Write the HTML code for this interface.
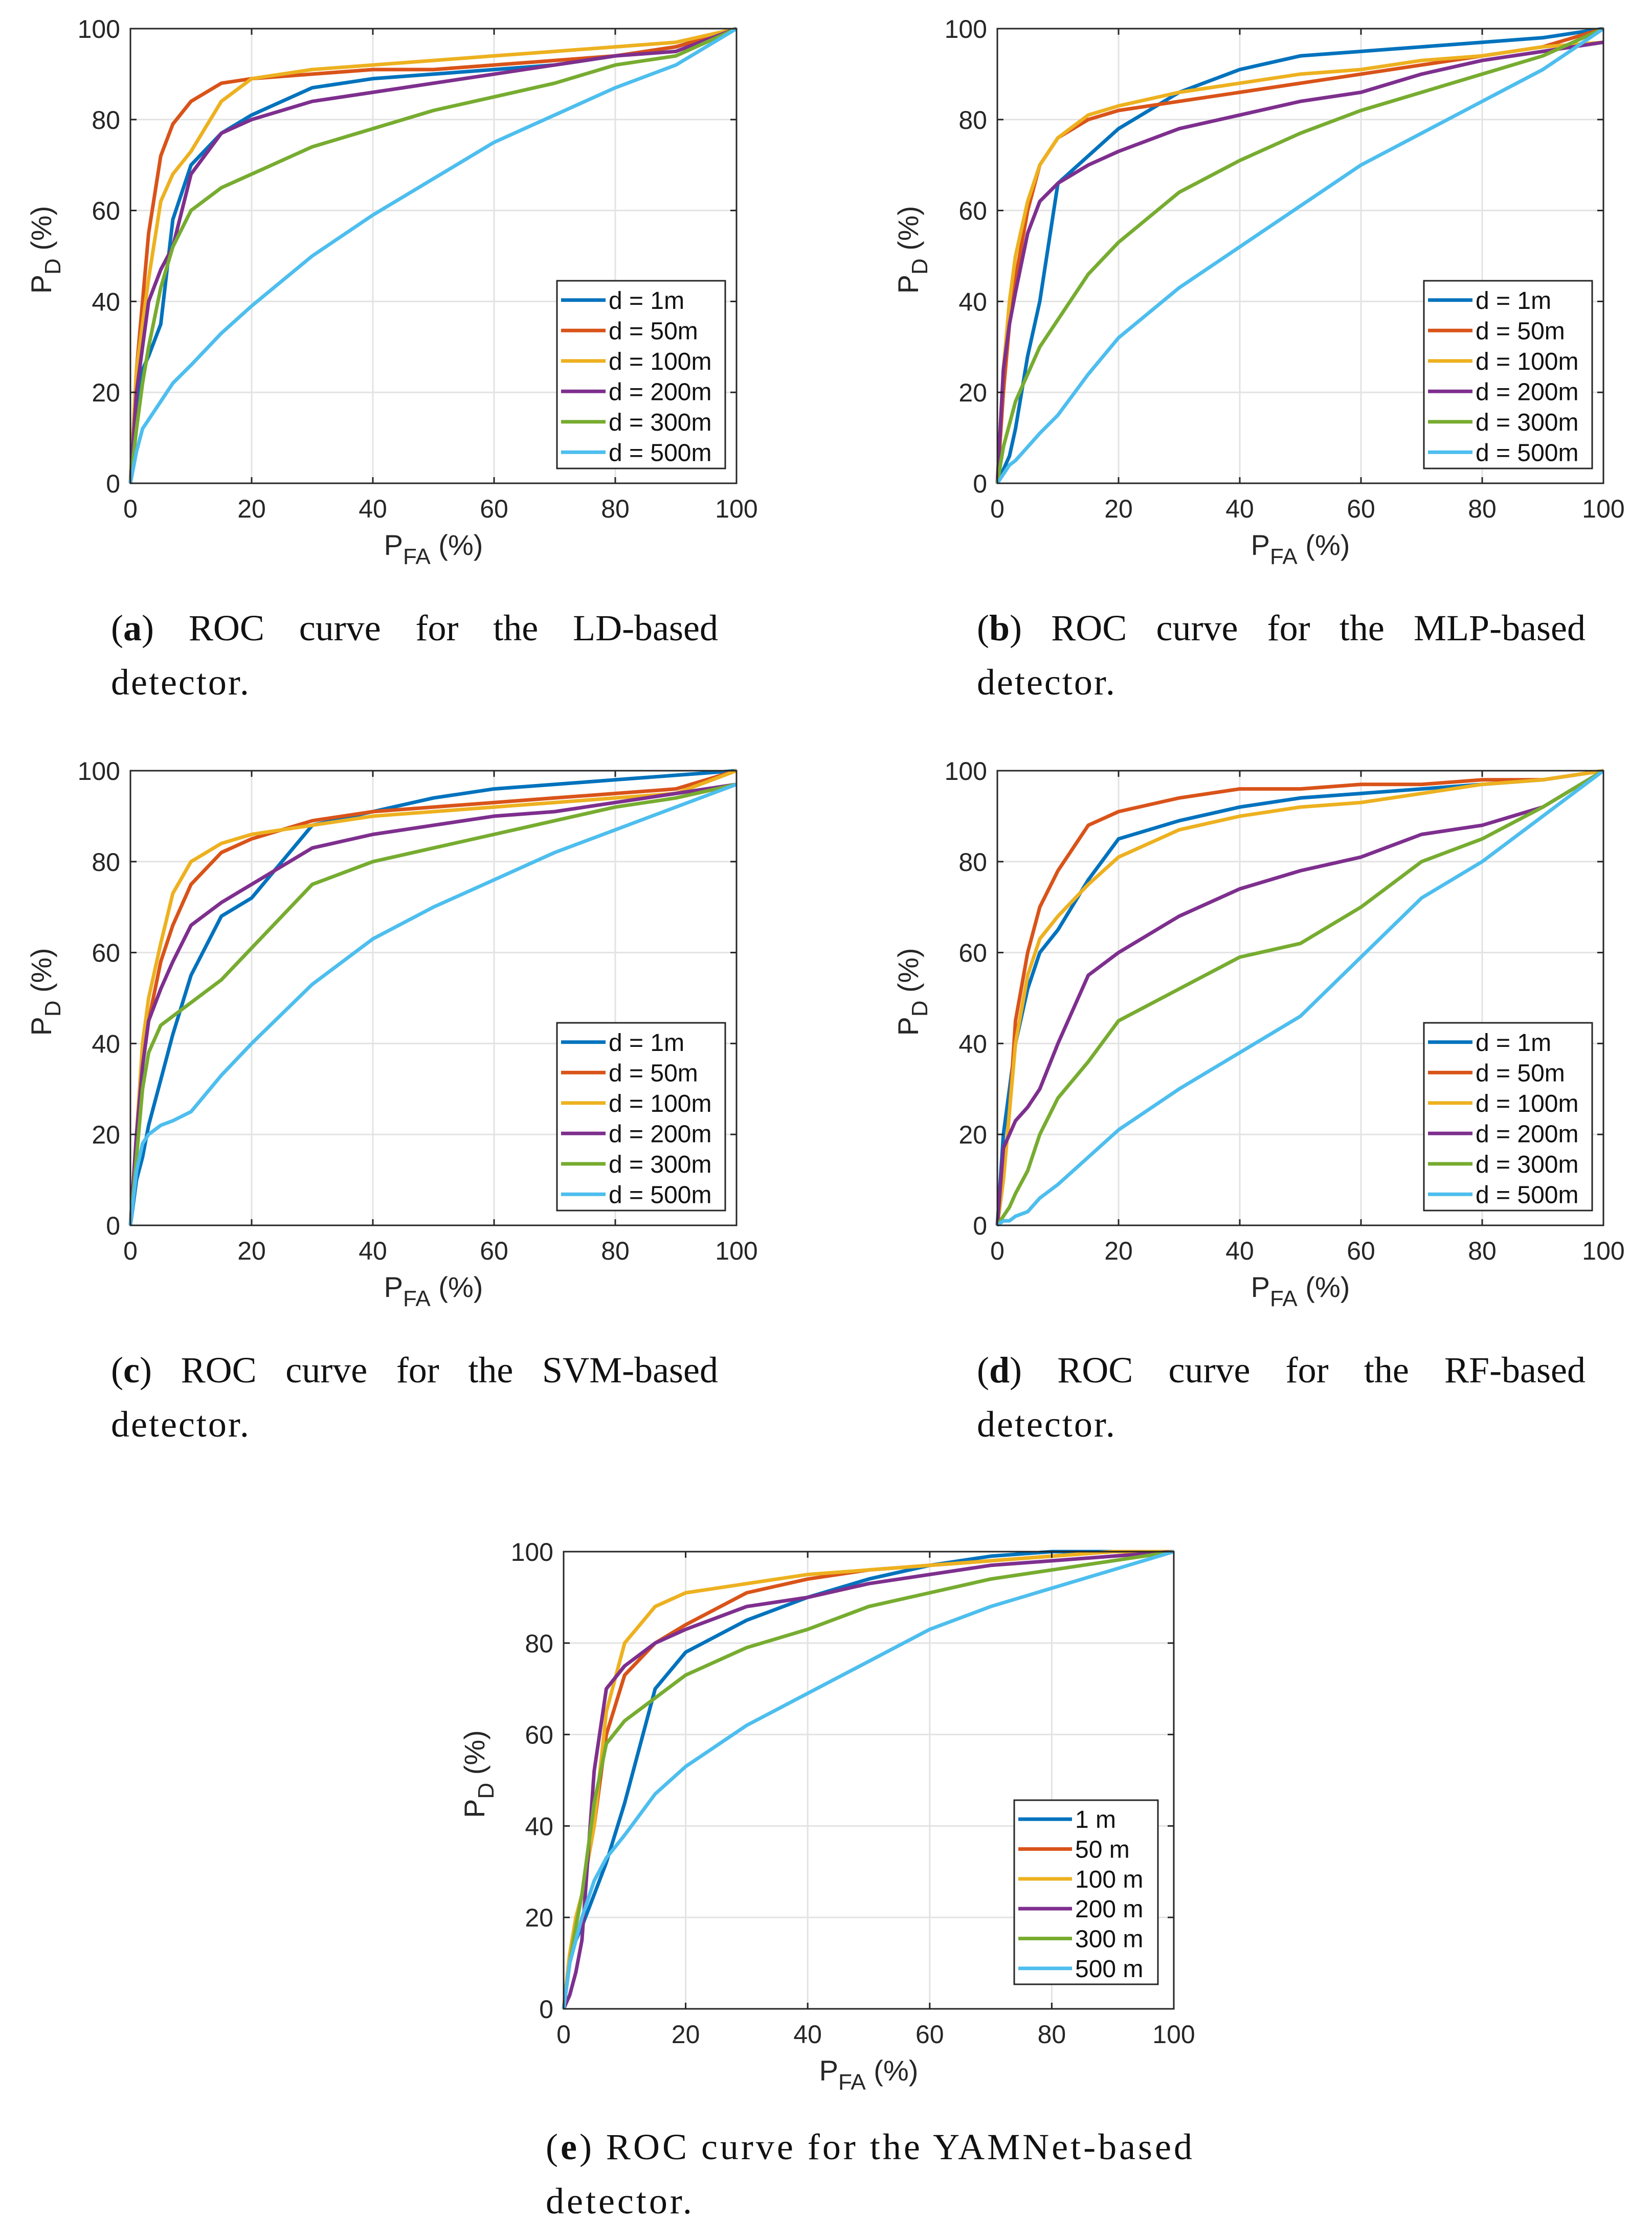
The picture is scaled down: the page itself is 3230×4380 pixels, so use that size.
<!DOCTYPE html>
<html><head><meta charset="utf-8">
<style>
body{margin:0;background:#fff;width:3230px;height:4380px;position:relative;overflow:hidden}
svg{position:absolute;left:0;top:0}
.cap{position:absolute;font-family:"Liberation Serif",serif;font-size:72px;letter-spacing:3px;line-height:106px;color:#111}
.just{text-align:justify;text-align-last:justify;letter-spacing:0}
</style></head><body>
<svg id="chart" width="3230" height="4380" xmlns="http://www.w3.org/2000/svg"></svg>

<div class="cap" style="left:217px;top:1175px;width:1187px"><div class="just">(<b>a</b>) ROC curve for the LD-based</div><div>detector.</div></div>
<div class="cap" style="left:1910px;top:1175px;width:1190px"><div class="just">(<b>b</b>) ROC curve for the MLP-based</div><div>detector.</div></div>
<div class="cap" style="left:217px;top:2626px;width:1187px"><div class="just">(<b>c</b>) ROC curve for the SVM-based</div><div>detector.</div></div>
<div class="cap" style="left:1910px;top:2626px;width:1190px"><div class="just">(<b>d</b>) ROC curve for the RF-based</div><div>detector.</div></div>
<div class="cap" style="left:1067px;top:4145px;width:1900px;letter-spacing:5px;white-space:nowrap"><div>(<b>e</b>) ROC curve for the YAMNet-based</div><div>detector.</div></div>

<script>
const xGrid = [0,1,2,3,5,7,10,15,20,30,40,50,60,70,80,90,100];
const xTicks = [0,20,40,60,80,100];
const yTicks = [0,20,40,60,80,100];
const colors = ["#0072BD","#D95319","#EDB120","#7E2F8E","#77AC30","#4DBEEE"];
const labelsMatlab = ["d = 1m","d = 50m","d = 100m","d = 200m","d = 300m","d = 500m"];
const labelsE = ["1 m","50 m","100 m","200 m","300 m","500 m"];

const a1m  = [0,15,25,28,35,58,70,77,81,87,89,90,91,92,94,96,100];
const a50  = [0,25,40,55,72,79,84,88,89,90,91,91,92,93,94,96,100];
const a100 = [0,25,35,45,62,68,73,84,89,91,92,93,94,95,96,97,100];
const a200 = [0,20,30,40,47,52,68,77,80,84,86,88,90,92,94,95,100];
const a300 = [0,12,22,30,43,52,60,65,68,74,78,82,85,88,92,94,100];
const a500 = [0,7,12,14,18,22,26,33,39,50,59,67,75,81,87,92,100];

const b1m  = [0,3,6,12,28,40,66,72,78,86,91,94,95,96,97,98,100];
const b50  = [0,20,35,45,60,70,76,80,82,84,86,88,90,92,94,96,100];
const b100 = [0,25,40,50,62,70,76,81,83,86,88,90,91,93,94,96,97];
const b200 = [0,25,35,42,55,62,66,70,73,78,81,84,86,90,93,95,97];
const b300 = [0,8,13,18,24,30,36,46,53,64,71,77,82,86,90,94,100];
const b500 = [0,2,4,5,8,11,15,24,32,43,52,61,70,77,84,91,100];

const c1m  = [0,10,15,22,32,42,55,68,72,88,91,94,96,97,98,99,100];
const c50  = [0,20,35,45,58,66,75,82,85,89,91,92,93,94,95,96,100];
const c100 = [0,20,40,50,62,73,80,84,86,88,90,91,92,93,94,95,100];
const c200 = [0,20,35,45,52,58,66,71,75,83,86,88,90,91,93,95,97];
const c300 = [0,15,30,38,44,46,49,54,61,75,80,83,86,89,92,94,97];
const c500 = [0,12,18,20,22,23,25,33,40,53,63,70,76,82,87,92,97];

const d1m  = [0,20,30,40,52,60,65,76,85,89,92,94,95,96,97,98,100];
const d50  = [0,10,25,45,60,70,78,88,91,94,96,96,97,97,98,98,100];
const d100 = [0,10,25,40,55,63,68,75,81,87,90,92,93,95,97,98,100];
const d200 = [0,17,20,23,26,30,40,55,60,68,74,78,81,86,88,92,100];
const d300 = [0,2,4,7,12,20,28,36,45,52,59,62,70,80,85,92,100];
const d500 = [0,1,1,2,3,6,9,15,21,30,38,46,59,72,80,90,100];

const e1m  = [0,10,15,18,25,32,45,70,78,85,90,94,97,99,100,100,100];
const e50  = [0,12,18,25,40,60,73,80,84,91,94,96,97,98,99,100,100];
const e100 = [0,12,20,25,40,65,80,88,91,93,95,96,97,98,99,100,100];
const e200 = [0,3,8,15,52,70,75,80,83,88,90,93,95,97,98,99,100];
const e300 = [0,10,18,25,45,58,63,68,73,79,83,88,91,94,96,98,100];
const e500 = [0,10,15,20,28,33,38,47,53,62,69,76,83,88,92,96,100];

const NS = "http://www.w3.org/2000/svg";
const svg = document.getElementById("chart");
function mk(tag, attrs, parent){
  const e = document.createElementNS(NS, tag);
  for (const k in attrs) e.setAttribute(k, attrs[k]);
  (parent||svg).appendChild(e);
  return e;
}
const FONT = '"Liberation Sans", sans-serif';

function panel(id, L, T, W, H, series, labels, leg){
  const g = mk("g", {});
  
  
  const sx = v => L + v / 100 * W;
  const sy = v => T + H - v / 100 * H;
  xTicks.forEach(t => {
    const l = mk("line", {x1:sx(t), x2:sx(t), y1:T, y2:T+H, stroke:"#e3e3e3", "stroke-width":3}, g);
    
    
  });
  yTicks.forEach(t => {
    const l = mk("line", {x1:L, x2:L+W, y1:sy(t), y2:sy(t), stroke:"#e3e3e3", "stroke-width":3}, g);
    
    
  });
  series.forEach((s, i) => {
    const d = xGrid.map((x, j) => (j ? "L" : "M") + sx(x).toFixed(1) + " " + sy(s[j]).toFixed(1)).join(" ");
    const p = mk("path", {d:d, fill:"none", stroke:colors[i], "stroke-width":7, "stroke-linejoin":"round"}, g);
    
    
  });
  const box = mk("rect", {x:L, y:T, width:W, height:H, fill:"none", stroke:"#262626", "stroke-width":3}, g);
  
  
  xTicks.forEach(t => {
    mk("line", {x1:sx(t), x2:sx(t), y1:T+H, y2:T+H-12, stroke:"#262626", "stroke-width":3}, g);
    mk("line", {x1:sx(t), x2:sx(t), y1:T, y2:T+12, stroke:"#262626", "stroke-width":3}, g);
    const tx = mk("text", {x:sx(t), y:T+H+67, "font-family":FONT, "font-size":50, "text-anchor":"middle", fill:"#262626"}, g);
    tx.textContent = t;
    
    
  });
  yTicks.forEach(t => {
    mk("line", {x1:L, x2:L+12, y1:sy(t), y2:sy(t), stroke:"#262626", "stroke-width":3}, g);
    mk("line", {x1:L+W, x2:L+W-12, y1:sy(t), y2:sy(t), stroke:"#262626", "stroke-width":3}, g);
    const ty = mk("text", {x:L-20, y:sy(t)+18, "font-family":FONT, "font-size":50, "text-anchor":"end", fill:"#262626"}, g);
    ty.textContent = t;
    
    
  });
  const xt = mk("text", {x:L+W/2, y:T+H+140, "font-family":FONT, "font-size":56, "text-anchor":"middle", fill:"#262626"}, g);
  
  
  xt.innerHTML = 'P<tspan font-size="44" dy="18">FA</tspan><tspan dy="-18"> (%)</tspan>';
  const cy = T + H/2 - 12;
  const yt = mk("text", {x:0, y:0, "font-family":FONT, "font-size":56, "text-anchor":"middle", fill:"#262626", transform:"translate(" + (L-155) + "," + cy + ") rotate(-90)"}, g);
  
  
  yt.innerHTML = 'P<tspan font-size="44" dy="18">D</tspan><tspan dy="-18"> (%)</tspan>';
  const lx = L + leg[0], ly = T + leg[1], lw = leg[2], lh = leg[3];
  const lg = mk("g", {}, g);
  
  
  mk("rect", {x:lx, y:ly, width:lw, height:lh, fill:"#fff", stroke:"#262626", "stroke-width":3}, lg);
  const rowH = (lh - 10) / 6;
  labels.forEach((lab, i) => {
    const yy = ly + 8 + rowH * (i + 0.5);
    const e = mk("g", {}, lg);
    
    
    mk("line", {x1:lx+8, x2:lx+leg[4], y1:yy, y2:yy, stroke:colors[i], "stroke-width":7}, e);
    const t = mk("text", {x:lx+leg[4]+6, y:yy+17, "font-family":FONT, "font-size":48, fill:"#111"}, e);
    t.textContent = lab;
  });
}

panel("a", 255, 56, 1185, 889, [a1m,a50,a100,a200,a300,a500], labelsMatlab, [834, 493, 329, 367, 95]);
panel("b", 1950, 56, 1185, 889, [b1m,b50,b100,b200,b300,b500], labelsMatlab, [834, 493, 329, 367, 95]);
panel("c", 255, 1507, 1185, 889, [c1m,c50,c100,c200,c300,c500], labelsMatlab, [834, 493, 329, 367, 95]);
panel("d", 1950, 1507, 1185, 889, [d1m,d50,d100,d200,d300,d500], labelsMatlab, [834, 493, 329, 367, 95]);
panel("e", 1102, 3034, 1193, 894, [e1m,e50,e100,e200,e300,e500], labelsE, [881, 486, 281, 360, 113]);
</script>
</body></html>
